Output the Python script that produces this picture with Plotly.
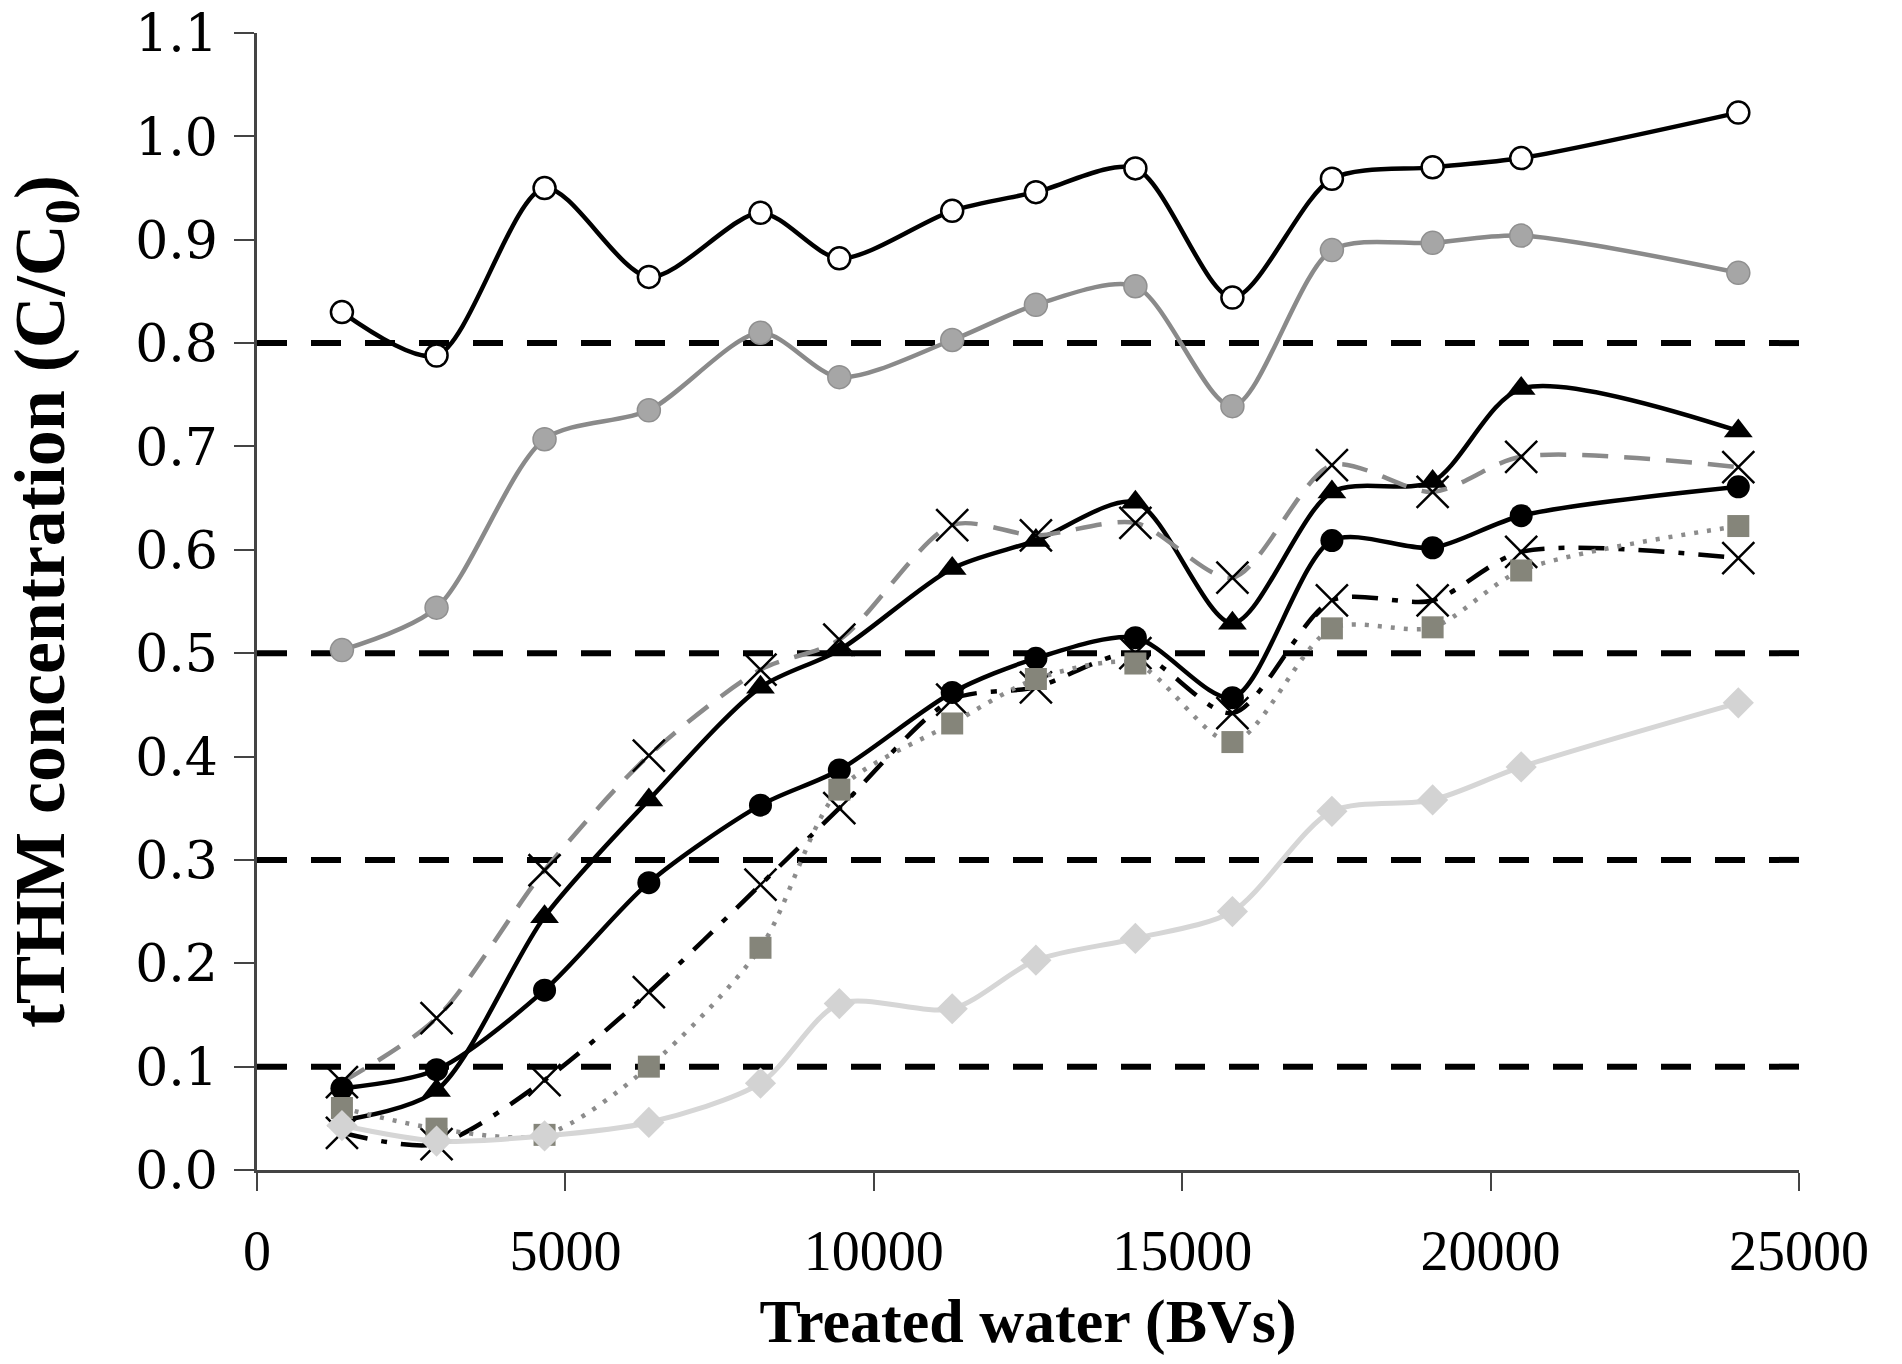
import plotly.graph_objects as go

# ---- data ----
bv = [1377, 2911, 4662, 6353, 8163, 9441, 11271, 12628, 14241, 15814, 17427, 19060, 20496, 24016]

s_open_circle = [0.830, 0.788, 0.950, 0.864, 0.926, 0.882, 0.928, 0.946, 0.969, 0.844, 0.959, 0.970, 0.979, 1.023]
s_gray_circle = [0.503, 0.544, 0.707, 0.735, 0.810, 0.767, 0.803, 0.837, 0.855, 0.739, 0.890, 0.897, 0.904, 0.868]
s_triangle = [0.048, 0.077, 0.245, 0.358, 0.467, 0.503, 0.582, 0.609, 0.646, 0.529, 0.656, 0.666, 0.756, 0.715]
s_gray_dash_x = [0.085, 0.147, 0.290, 0.401, 0.484, 0.513, 0.624, 0.614, 0.626, 0.573, 0.682, 0.656, 0.690, 0.680]
s_black_circle = [0.079, 0.097, 0.174, 0.278, 0.353, 0.387, 0.462, 0.495, 0.515, 0.457, 0.609, 0.602, 0.633, 0.661]
s_dashdot_x = [0.036, 0.025, 0.087, 0.172, 0.276, 0.350, 0.455, 0.467, 0.500, 0.442, 0.551, 0.551, 0.598, 0.592]
s_square = [0.060, 0.040, 0.034, 0.100, 0.215, 0.368, 0.432, 0.475, 0.490, 0.414, 0.524, 0.525, 0.580, 0.623]
s_diamond = [0.043, 0.028, 0.033, 0.046, 0.084, 0.161, 0.156, 0.203, 0.224, 0.250, 0.347, 0.358, 0.390, 0.452]

thresholds = [0.8, 0.5, 0.3, 0.1]
x_range = [0, 25000]
y_range = [0, 1.1]
x_ticks = [0, 5000, 10000, 15000, 20000, 25000]
y_ticks = [0.0, 0.1, 0.2, 0.3, 0.4, 0.5, 0.6, 0.7, 0.8, 0.9, 1.0, 1.1]

fig = go.Figure()

# threshold dashed lines
for t in thresholds:
    fig.add_trace(go.Scatter(
        x=x_range, y=[t, t], mode="lines",
        line=dict(color="black", width=6, dash="30px,24px"),
        hoverinfo="skip", showlegend=False))

def add(y, line, marker):
    fig.add_trace(go.Scatter(x=bv, y=y, mode="lines+markers",
                             line=line, marker=marker, showlegend=False))

SP = dict(shape="spline", smoothing=0.8)

add(s_open_circle, dict(color="black", width=4.5, **SP),
    dict(symbol="circle", size=22, color="white", line=dict(color="black", width=2.5)))
add(s_gray_circle, dict(color="#8a8a8a", width=4.5, **SP),
    dict(symbol="circle", size=23, color="#a6a6a6", line=dict(color="#8f8f8f", width=1.5)))
add(s_triangle, dict(color="black", width=4.5, **SP),
    dict(symbol="triangle-up", size=25, color="black", line=dict(width=0)))
add(s_gray_dash_x, dict(color="#8a8a8a", width=4.5, dash="26px,16px", **SP),
    dict(symbol="x-thin", size=32, color="black", line=dict(color="black", width=2.5)))
add(s_black_circle, dict(color="black", width=4.5, **SP),
    dict(symbol="circle", size=23, color="black", line=dict(width=0)))
add(s_dashdot_x, dict(color="black", width=4.5, dash="26px,14px,6px,14px", **SP),
    dict(symbol="x-thin", size=32, color="black", line=dict(color="black", width=2.5)))
add(s_square, dict(color="#8c8c8c", width=4.5, dash="4px,9px", **SP),
    dict(symbol="square", size=22, color="#85857a", line=dict(width=0)))
add(s_diamond, dict(color="#d6d6d6", width=5, **SP),
    dict(symbol="diamond", size=24, color="#d3d3d3", line=dict(width=0)))

fig.update_layout(
    width=1902, height=1364,
    margin=dict(l=257, r=103, t=33, b=194),
    plot_bgcolor="white", paper_bgcolor="white",
    showlegend=False,
    xaxis=dict(
        range=x_range, tickvals=x_ticks, tickformat="d",
        showgrid=False, zeroline=False, automargin=False,
        showline=True, linecolor="#444444", linewidth=2.5,
        ticks="outside", ticklen=18, tickwidth=2, tickcolor="#444444",
        tickfont=dict(family="Liberation Serif", size=56, color="black"),
        ticklabelstandoff=12,
        title=dict(text="Treated water (BVs)",
                   font=dict(family="Liberation Serif", size=62, color="black", weight="bold"),
                   standoff=18),
    ),
    yaxis=dict(
        range=y_range, tickvals=y_ticks, tickformat=".1f",
        showgrid=False, zeroline=False, automargin=False,
        showline=True, linecolor="#444444", linewidth=2.5,
        ticks="outside", ticklen=20, tickwidth=2, tickcolor="#444444",
        tickfont=dict(family="DejaVu Serif", size=52, color="black"), ticklabelstandoff=6,
        title=dict(text="tTHM concentration (C/C<sub>0</sub>)",
                   font=dict(family="Liberation Serif", size=72, color="black", weight="bold"),
                   standoff=48),
    ),
)

fig.write_html("out.html")
